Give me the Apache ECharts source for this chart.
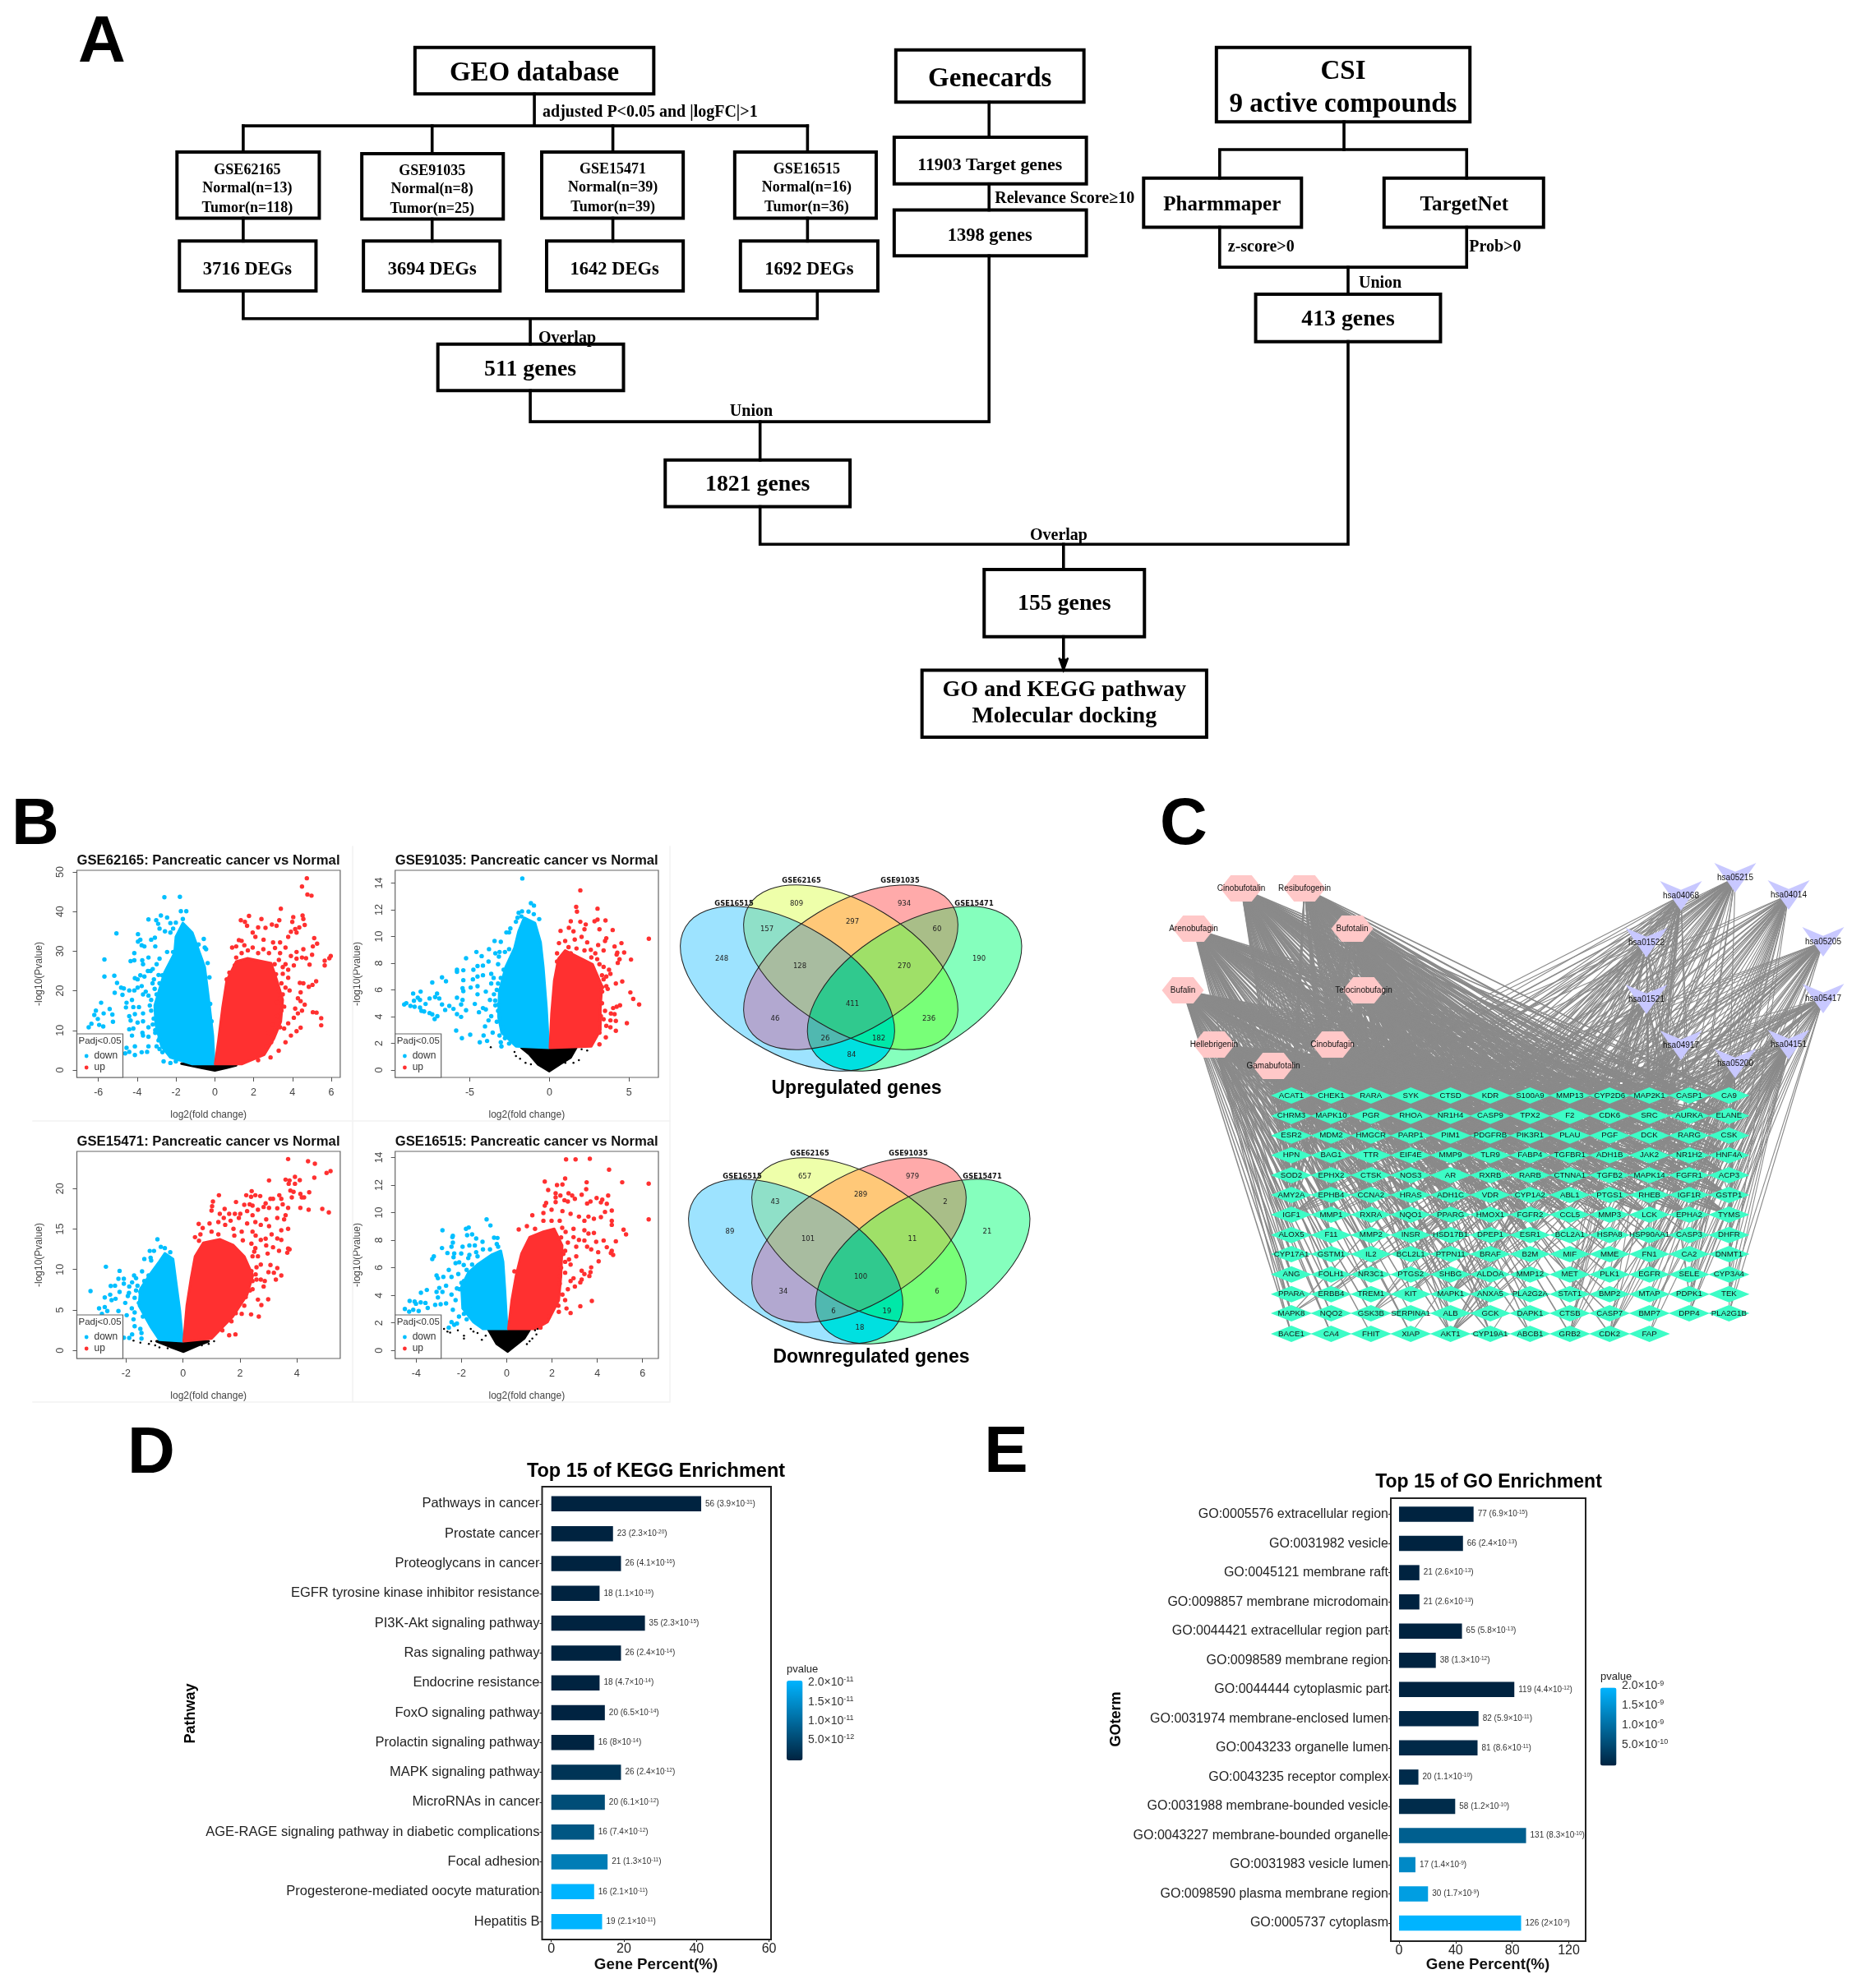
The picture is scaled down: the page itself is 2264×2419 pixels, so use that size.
<!DOCTYPE html>
<html><head><meta charset="utf-8">
<style>html,body{margin:0;padding:0;background:#fff}#c{width:2264px;height:2419px}</style>
<script src="https://cdn.jsdelivr.net/npm/echarts@6/dist/echarts.min.js"></script>
</head><body><div id="c"></div>
<script>
/* ---------- DATA ---------- */
const volcanoTitles=['GSE62165: Pancreatic cancer vs Normal','GSE91035: Pancreatic cancer vs Normal','GSE15471: Pancreatic cancer vs Normal','GSE16515: Pancreatic cancer vs Normal'];
const blueMass=[
[[-.03,1.5],[-.1,8.7],[-.31,17.7],[-.52,26],[-.88,30.9],[-1.16,34.7],[-1.65,37.1],[-2.01,33.6],[-2.08,29.5],[-2.6,24.6],[-2.85,20.5],[-3.1,16.3],[-3.05,11.5],[-2.75,6],[-2.3,3.2],[-1.16,1.5]],
[[-.04,1.67],[-.18,4.64],[-.38,7.7],[-.55,9.56],[-.9,11],[-1.59,11.4],[-1.93,10.4],[-2.19,9.15],[-2.75,7.7],[-3.15,5.87],[-3.2,4],[-3,2.8],[-2.1,1.77]],
[[-.01,1.13],[-.11,4.86],[-.25,8.58],[-.35,11.3],[-.64,12],[-.83,11],[-1.12,9.6],[-1.5,7.6],[-1.55,5.53],[-1.12,2.82],[-.83,1.3]],
[[.02,1.56],[-.08,4.44],[-.16,6.43],[-.26,7.23],[-.68,6.93],[-1.3,6.23],[-1.7,5.64],[-2,4.64],[-1.95,3.05],[-1.47,2.06],[-1.05,1.56]]];
const redMass=[
[[.01,1.5],[.18,7.4],[.39,15.6],[.61,22.6],[1.1,27.4],[1.67,28.2],[2.9,27],[3.2,22.6],[3.5,17.7],[3.4,12.2],[3.05,8],[2.55,3.9],[1.38,1.5]],
[[.03,1.67],[.13,4.23],[.3,6.69],[.56,8.33],[.99,8.95],[2.02,8.33],[2.71,7.92],[3.3,6.28],[3.2,4.64],[3.2,3],[2.63,1.77]],
[[.02,1.13],[.13,5.53],[.28,8.92],[.42,11.63],[.71,13.3],[1.29,13.73],[1.77,13],[2.15,11.63],[2.45,9.26],[2.25,6.89],[1.75,4.18],[1,1.47]],
[[.07,1.56],[.22,3.65],[.41,5.44],[.65,7.03],[1.01,8.22],[1.62,8.62],[2.1,8.82],[2.45,7.62],[2.4,5.44],[2.3,3.65],[1.8,2.06],[1.25,1.56]]];
const blackMass=[
[[-1.72,1.6],[-.8,1.4],[1.1,1.2],[.6,.6],[0,-.1],[-.7,.6]],
[[-1.76,1.67],[1.68,1.67],[1.34,.95],[.65,.44],[0,-.08],[-.73,.44],[-1.24,1.16]],
[[-.93,1.13],[.9,1.13],[.52,.62],[.02,-.16],[-.45,.45]],
[[-.81,1.5],[1.01,1.5],[.77,.87],[.04,-.08],[-.44,.47]]];
const blackDots=[[],
[[-2.19,1.36],[-2.1,1.05],[-1.84,.85],[-1.5,.54],[-1.16,.44],[-3.68,1.71],[2.02,1.56],[2.37,1.46],[1.85,.74],[1.51,.54],[1,.54]],
[[-1.74,1.2],[-1.5,.96],[-1.2,.8],[-.98,.62],[-.83,.38],[-.54,.28],[1.09,1.13],[.9,.8],[.66,.62],[-1.12,1.13]],
[[-2.77,1.56],[-2.62,1.37],[-2.5,1.3],[-2.16,1.46],[-1.89,1.07],[-1.89,.87],[-1.59,1.56],[-1.47,1.37],[-1.29,1.27],[-1.1,.77],[-.93,1.07],[1.25,1.46],[1.31,1.17],[1.13,.87],[1.01,.67],[.89,.47],[1.37,1.56]]];
const blueDots=[
[[-5.07,34.5],[-5.69,27.9],[-2.6,43.6],[-1.8,43.7],[-1.75,40.1],[-1.47,40.1],[-1.65,38.1],[-5.69,23.6],[-5.18,23.8],[-5.04,22],[-5.16,19.5],[-4.83,20.8],[-4.69,20.6],[-4.76,19],[-4.41,20.1],[-4.15,20.1],[-3.98,20.8],[-3.77,21.2],[-3.63,23.6],[-3.84,23.9],[-3.98,22.9],[-4.12,23.2],[-4.34,27.5],[-4.15,27.7],[-3.74,27.7],[-3.7,26.7],[-3.42,28.4],[-3.45,25],[-3.31,25],[-3,26.7],[-2.85,28.1],[-2.46,29.8],[-2.15,29.8],[-3.07,31.2],[-3.28,32.9],[-3.77,31.5],[-3.63,31.2],[-3.84,32.9],[-3.96,32.4],[-3.96,34.3],[-4.15,29.5],[-3.09,33.4],[-2.85,35.7],[-2.57,35],[-2.29,34.7],[-3.42,38],[-3.02,37.8],[-2.92,36.9],[-2.78,39],[-2.46,38.5],[-2.29,37.1],[-2.01,37.2],[-2.15,35.7],[-3.14,22.9],[-3.21,21.9],[-2.85,21.9],[-2.71,23.9],[-3,19.1],[-3.42,18.8],[-3.28,17.7],[-3.56,19.8],[-3.7,19.1],[-4.27,17.7],[-4.55,17],[-4.58,15.8],[-4.2,15.9],[-3.91,15.9],[-3.7,14.3],[-3.35,16.3],[-3.28,15],[-3,14.3],[-4.12,14.1],[-4.41,13.6],[-4.34,12.5],[-3.98,12],[-3.7,12.3],[-3.42,10.8],[-3.07,10.1],[-2.92,12.5],[-4.2,10.5],[-4.41,10.3],[-4.27,8.7],[-3.73,9.4],[-3.7,8.7],[-3.42,8.4],[-3.07,9.4],[-2.85,8],[-3,6],[-2.85,5.3],[-3.42,6],[-3.49,4.6],[-4.12,6],[-4.55,5.6],[-4.62,4.2],[-4.41,4.6],[-4.12,3.8],[-3.77,4.5],[-2.64,2.2],[-2.29,1.8],[-2.01,2.2],[-2.08,4.6],[-.57,33.1],[-.52,30.9],[-.84,31.7],[-.45,30.5],[-.37,27],[-.28,23.4],[-.24,16.7],[-.17,12.3],[-5.28,14],[-5.42,15.4],[-5.25,12.2],[-5.73,14.3],[-5.86,17],[-6.13,15],[-6.21,13.9],[-6.03,12.9],[-6.36,11.7],[-6.5,10.8],[-5.96,11.4],[-5.75,11],[-3.2,25.5],[-2.9,24],[-3.1,20.5],[-3.15,13],[-2.95,17.5],[-3.2,11.5],[-2.9,7.5],[-2.7,4.5]],
[[-1.7,14.34],[-1.16,12.49],[-.97,12.31],[-1.72,11.88],[-1.93,11.77],[-1.31,11.86],[-.98,11.67],[-.64,11.3],[-2,11.4],[-1.76,11.5],[-2.1,11.1],[-2.45,10.6],[-2.53,10.3],[-2.7,10.3],[-3.05,9.6],[-3.44,9.66],[-3.79,9.05],[-4.58,8.84],[-4.25,8.53],[-5.23,8.37],[-3.82,8.12],[-4.17,7.82],[-4.51,7.78],[-3.13,8.84],[-2.79,8.84],[-2.53,9.05],[-3.39,8.74],[-3.17,8.49],[-5.8,7.51],[-5.4,7.47],[-4.77,7.51],[-6.74,6.94],[-7.35,6.55],[-6.49,6.65],[-5.4,6.73],[-5.8,7.35],[-4.8,6.79],[-4.51,7],[-4.17,7.1],[-3.65,7.2],[-3.22,7.92],[-2.87,7.51],[-3.05,6.9],[-2.79,6.79],[-4.94,6.18],[-4.51,6.28],[-5.45,6.12],[-5.4,5.91],[-3.65,6.48],[-3.22,6.48],[-8.08,5.87],[-8.55,5.73],[-7.05,5.73],[-7.52,5.36],[-7.17,5.46],[-6.91,5.36],[-8.26,5.42],[-8.12,5.25],[-8.5,5.19],[-8.98,5.01],[-9.11,4.91],[-8.72,4.8],[-8.46,4.74],[-8.12,4.68],[-7.77,4.95],[-8.03,4.43],[-7.86,4.39],[-6.74,4.91],[-6.28,4.8],[-6.02,4.58],[-6.54,4.5],[-5.8,5.42],[-5.45,5.25],[-5.54,4.91],[-4.68,4.95],[-5.23,4.48],[-5.8,4.19],[-5.54,3.98],[-7.52,4.27],[-7.35,4.17],[-7.03,4.03],[-7.2,3.82],[-4.51,5.67],[-3.99,5.87],[-3.48,5.67],[-3.73,5.25],[-4.17,4.64],[-4.42,4.33],[-3.99,4.54],[-3.39,4.85],[-3.22,4.43],[-3.65,4.03],[-3.82,3.72],[-3.3,3.62],[-4.04,3.27],[-5.85,2.96],[-5.49,2.39],[-4.97,2.65],[-4.13,2.59],[-3.91,2.18],[-4.37,2.08],[-3.56,2.8],[-3.05,2.08],[-3.01,1.77],[-2.79,2.39],[-2.53,1.98],[-3.13,2.59],[-2.87,3.2],[-3.3,6],[-3.5,6.9],[-3.4,5.2],[-3.2,4.9],[-3.1,3.9]],
[[-.9,13.73],[-3.25,7.33],[-2.71,10.34],[-2.23,9.83],[-2.27,8.85],[-2.08,8.85],[-2.54,7.97],[-2.39,8],[-1.72,9.26],[-1.65,8.92],[-1.44,9.77],[-1.36,11.3],[-1.14,11.46],[-1.12,11.12],[-1.02,12.3],[-1.17,12.3],[-.78,12.8],[-.64,12.65],[-.45,12.14],[-2.75,6.55],[-2.56,6.89],[-2.51,6.21],[-2.37,6.38],[-2.23,7.23],[-2.08,8.24],[-1.89,7.9],[-1.79,8.41],[-1.94,6.72],[-2.03,5.87],[-2.27,4.86],[-2.66,4.86],[-2.75,5.36],[-2.95,5.19],[-2.85,4.52],[-1.98,4.35],[-1.7,4.69],[-1.74,3.84],[-1.7,2.99],[-1.5,2.65],[-1.46,2.15],[-1.79,1.98],[-2.08,1.57],[-1.89,1.54],[-1.41,4.18],[-1.55,5.87],[-1.5,7.23],[-1.36,8.58],[-1.21,9.26],[-1.46,1.47],[-1.7,6.5],[-1.8,5.2],[-1.6,8],[-1.9,7.1],[-1.65,7.4]],
[[-.89,9.51],[-.72,9.07],[-2.84,8.72],[-1.68,8.92],[-1.8,8.82],[-2.38,8.32],[-2.4,8.22],[-1.53,8.42],[-1.75,8.36],[-1.35,8.12],[-1.07,7.88],[-.56,8.18],[-.41,8.16],[-1.41,7.62],[-1.65,7.62],[-1.95,7.53],[-2.38,7.82],[-2.44,7.53],[-2.86,7.43],[-2.62,7.07],[-2.32,7.03],[-2.35,6.77],[-3.22,6.83],[-3.29,6.63],[-2.01,7.03],[-1.65,6.93],[-1.35,7.13],[-1.05,7.33],[-.74,7.33],[-.44,7.72],[-.38,7.53],[-2.26,6.33],[-2.56,5.84],[-2.8,5.34],[-3.1,5.44],[-3.04,5.24],[-2.68,4.7],[-2.98,4.54],[-3.53,4.39],[-3.79,4.19],[-3.1,4.25],[-2.84,4.25],[-3.04,3.85],[-3.16,3.31],[-2.92,3.35],[-2.68,3.41],[-3.59,3.45],[-3.8,3.49],[-4.07,3.55],[-4.01,3.39],[-4.29,3.59],[-3.49,3.09],[-4.5,3.01],[-4.31,2.82],[-4.13,2.95],[-3.89,2.86],[-2.44,4.05],[-2.26,3.65],[-2.08,4.44],[-1.89,5.04],[-2.38,2.95],[-2.11,2.46],[-1.89,2.66],[-1.65,3.25],[-1.77,2.26],[-2.44,2.06],[-2.32,1.86],[-2.2,1.96],[-2.56,1.66],[-1.29,6.83],[-1.53,6.23],[-1.77,5.84],[-2.14,5.54],[-2.44,5.34],[-1.9,6.2],[-2.1,6.4],[-1.7,6.7],[-2,4.9],[-2.2,4.5]]];
const redDots=[
[[4.74,48.4],[4.49,46.3],[4.77,44.3],[4.98,44],[3.4,40.7],[1.76,38.9],[1.34,37.8],[1.55,37.4],[2.4,38.1],[3.32,37.8],[2.94,36.7],[3.18,36.4],[2.61,35.9],[2.23,36],[4.04,38.6],[4.52,39],[4.56,38.1],[4.63,36.6],[3.99,37.4],[4.35,36],[4.14,35.6],[3.92,34.9],[4.21,34.7],[3.78,33.6],[5.12,33.3],[5.27,31.9],[5.05,31.2],[4.56,30.5],[5.01,29.1],[4.7,28.2],[5.97,28.8],[5.9,28.2],[5.66,27.6],[5.66,26.4],[4.88,26.6],[5.22,22.4],[5.03,21.5],[4.84,21],[4.56,21.9],[4.38,22],[4.42,19.6],[4.28,18.1],[4.42,17.4],[4.63,16.5],[4.14,15.5],[5.05,14.6],[5.24,14.5],[5.48,13.1],[5.48,11.3],[4.28,14.3],[4.49,15],[4.07,13.2],[4.42,10.7],[4.21,9.8],[3.78,11.8],[3.57,10.5],[3.92,8.7],[3.64,7],[3.29,4.9],[2.87,3.2],[2.23,2.5],[1.66,36.4],[1.95,34.7],[1.38,32.6],[1.24,32.8],[1.52,31.5],[1.1,31.2],[.89,30.9],[1.38,29.5],[1.1,28.4],[1.03,26.4],[.75,24.6],[.61,22.9],[2.09,33.6],[2.51,32.9],[3,32.2],[3.36,32.2],[3.64,30.9],[4.21,29.8],[3.92,28.8],[4.21,28.1],[4.49,28.4],[4.07,26.4],[3.78,25.3],[3.5,24.3],[3.78,23.3],[3.43,21.9],[3.64,20.8],[3.85,20.1],[3.5,19.1],[3.22,17],[3.57,16],[3.43,15],[3.22,13.6],[3,11.5],[3.36,10.8],[2.79,9.4],[2.65,6],[1.95,30.9],[2.23,29.5],[2.79,29.5],[3.36,29.5],[3.08,26.7],[3.64,26.7],[1.7,30.2],[2.5,30.5],[3.1,30.8],[3.3,27.8],[3.5,26],[3.15,24.2],[3.3,20],[3.35,18],[3.1,10],[2.9,7]],
[[1.94,13.45],[1.68,12.22],[1.73,11.86],[3.02,12.08],[1.34,11.14],[1.94,11.1],[2.28,10.9],[2.83,11.14],[3.02,11.26],[3.52,11.2],[3.14,10.54],[3.97,10.48],[.7,10.42],[1.22,10.65],[1.51,10.38],[2.2,10.54],[3.57,9.87],[3.49,9.66],[6.24,9.83],[4.52,9.5],[4.09,9.25],[2.02,9.97],[1.59,9.77],[.6,9.5],[.99,9.66],[2.37,9.56],[3.06,9.36],[2.2,8.95],[4.26,8.78],[4.69,8.8],[4.22,8.64],[5.12,8.27],[4.4,8.29],[4.29,8.02],[3.4,8.95],[2.88,8.74],[3.74,7.51],[3.83,7.2],[3.57,7],[4.57,6.63],[4.17,6.48],[3.4,6.79],[3.66,6.07],[5.08,5.81],[5.26,5.32],[5.63,4.91],[4.43,4.85],[4.22,4.74],[4,4.64],[3.86,4.23],[4.09,4.19],[3.49,4.43],[3.23,4.03],[3.83,3.72],[4.17,3.68],[4.86,3.51],[3.57,3.31],[3.83,3.2],[4.17,2.94],[3.54,2.45],[3.14,1.93],[3.31,5.87],[3.14,5.25],[3.57,6.28],[.48,8.12],[.48,8.74],[.82,8.53],[1.34,8.74],[2.63,8.43],[3.14,7.92],[3.4,7.72],[2.88,2.59],[3.14,2.8],[3.14,3.51],[1.2,9.2],[1.7,9.1],[2.6,9],[3,8.3],[3.3,7.1],[3.3,6.2],[3.3,5],[3.4,3.8]],
[[3.69,23.65],[4.39,23.38],[4.63,23.08],[5.18,22.16],[5.04,21.93],[4.61,21.35],[3.02,21.01],[3.6,21.11],[3.74,21.01],[3.93,21.45],[3.93,20.6],[4.1,21.05],[3.71,20.6],[3.77,19.76],[3.88,19.59],[4.12,19.35],[4.43,19.55],[4.17,18.91],[4.25,18.91],[3.82,18.91],[3.45,18.74],[3.38,19.18],[3.16,18.74],[3.07,18.74],[3.5,18.06],[3.69,17.62],[4.12,17.62],[4.41,17.39],[4.89,17.49],[5.12,17.05],[1.26,19.18],[1.05,18.4],[1.02,17.83],[1,17.29],[2.41,19.69],[2.22,19.18],[2.39,18.98],[2.54,19.18],[2.71,19.08],[1.86,18.34],[2.15,18],[2.34,18.06],[2.44,17.9],[2.9,18.17],[3.02,17.62],[3.31,17.56],[1.46,17.49],[1.62,16.88],[1.82,16.88],[2.01,16.88],[2.25,17.22],[2.44,16.71],[2.63,17.39],[2.83,17.73],[1.29,16.88],[1.43,16.37],[1.67,16.03],[1.96,16.37],[2.25,15.69],[2.54,15.86],[2.92,16.2],[3.31,16.37],[3.6,16.71],[3.55,16.2],[3.69,15.02],[3.45,14.85],[.55,15.63],[.69,15.12],[.93,15.69],[1.24,15.86],[1.48,15.52],[1.77,15.02],[2.06,14.68],[2.44,14.68],[2.73,15.52],[3.02,15.36],[3.11,14.34],[2.73,13.66],[3.31,13.83],[3.45,13.66],[.61,14.34],[.42,14],[.56,13.56],[1,14.68],[1.24,14.34],[3.69,12.58],[3.74,12.48],[3.66,12.07],[3.37,12.31],[3.16,12.75],[2.92,12.98],[2.54,12.65],[2.63,11.63],[2.97,11.97],[2.73,10.61],[2.58,10.27],[2.44,11.63],[3.07,10.55],[3,9.67],[3.31,10.17],[3.19,9.6],[3.26,8.75],[3.45,9.26],[2.58,8.75],[2.73,8.75],[2.87,8.58],[2.83,7.9],[2.44,8.58],[2.44,7.57],[2.15,5.53],[2.06,4.52],[2.39,4.45],[2.66,4.18],[2.63,6.28],[2.75,5.6],[2.99,6.31],[1.62,1.87],[1.84,1.98],[1.38,2.48],[1.8,14.2],[2.1,13.6],[2.4,13.2],[2.55,14.2],[2.9,13.8],[2.5,12.2],[2.4,9.8],[2.55,9.4],[2.35,7.4],[2.2,6.6],[1.85,4.6],[1.7,3.6]],
[[2.62,13.86],[3.04,13.86],[3.67,13.9],[4.52,13.11],[5.1,12.2],[6.27,12.1],[6.27,9.51],[1.68,12.25],[2.58,12.47],[1.83,11.64],[2.22,12],[2.46,12.04],[3.53,12.2],[3.51,11.7],[2.16,11.4],[2.37,11.24],[2.16,11.1],[2.73,11.4],[3.31,11.3],[2.89,11.24],[3.01,11],[2.55,10.9],[2.7,10.8],[2.16,10.76],[4.48,11.24],[3.97,11.06],[4.22,10.94],[4.42,10.64],[4.16,10.74],[3.7,10.8],[3.55,10.66],[4.64,10.15],[4.34,10.05],[4.16,9.67],[4.64,9.41],[4.64,9.11],[5.16,8.76],[5.27,8.42],[4.82,7.92],[4.28,7.98],[3.95,7.88],[4.42,7.49],[4.64,7.23],[4.6,7.07],[4.7,6.93],[4.04,7.13],[3.73,7.33],[3.55,7.53],[4.06,6.47],[3.73,6.03],[3.7,5.68],[3.65,5.4],[3.31,5.78],[3.43,5.54],[3.31,5.14],[3.25,4.94],[1.74,10.7],[1.68,10.5],[1.13,9.81],[1.62,9.97],[1.98,10.21],[2.46,10.11],[2.82,9.91],[3.19,9.71],[3.43,9.41],[3.61,9.71],[3.85,9.55],[.53,8.78],[.89,9.02],[1.25,8.82],[1.62,9.41],[1.98,9.41],[2.34,9.41],[2.95,8.82],[3.43,8.72],[3.61,8.48],[3.85,8.52],[3.19,8.02],[3.43,7.98],[3.07,7.53],[2.95,8.22],[2.7,7.82],[2.58,7.23],[3.07,6.83],[2.82,6.23],[2.58,5.64],[2.95,5.24],[3.01,4.64],[2.7,4.44],[2.58,3.65],[2.64,3.05],[2.82,2.72],[3.25,3.21],[3.76,3.59],[1.86,2.46],[2.28,3.25],[2.46,4.05],[2.34,4.84],[2.58,6.43],[2.82,5.04],[.34,5.74],[1.49,1.66],[2.4,8.2],[2.5,7],[2.4,6],[2.6,8.6],[2.35,5.4],[2.3,2.8],[2.75,6.6],[2.45,8.9]]];

const vennSets=['GSE16515','GSE62165','GSE91035','GSE15471'];
const vennUp=[248,809,934,190,157,297,60,128,270,411,46,236,26,182,84];
const vennDown=[89,657,979,21,43,289,2,101,11,100,34,6,6,19,18];
const vennTitles=['Upregulated genes','Downregulated genes'];
const vennRegionColor={'1000':'#9DE3FF','0100':'#EEFFAA','0010':'#FFAAAA','0001':'#85FFBD','1100':'#8FE0C8','0110':'#FFC878','0011':'#A9BE88','1110':'#A8BCA0','0111':'#9FE068','1111':'#30C98E','1010':'#B2A8D0','0101':'#78FF78','1011':'#50B8B0','1101':'#00E8A8','1001':'#00E0E0'};

const geneRows=[
'ACAT1 CHEK1 RARA SYK CTSD KDR S100A9 MMP13 CYP2D6 MAP2K1 CASP1 CA9',
'CHRM3 MAPK10 PGR RHOA NR1H4 CASP9 TPX2 F2 CDK6 SRC AURKA ELANE',
'ESR2 MDM2 HMGCR PARP1 PIM1 PDGFRB PIK3R1 PLAU PGF DCK RARG CSK',
'HPN BAG1 TTR EIF4E MMP9 TLR9 FABP4 TGFBR1 ADH1B JAK2 NR1H2 HNF4A',
'SOD2 EPHX2 CTSK NOS3 AR RXRB RARB CTNNA1 TGFB2 MAPK14 FGFR1 ACP3',
'AMY2A EPHB4 CCNA2 HRAS ADH1C VDR CYP1A2 ABL1 PTGS1 RHEB IGF1R GSTP1',
'IGF1 MMP1 RXRA NQO1 PPARG HMOX1 FGFR2 CCL5 MMP3 LCK EPHA2 TYMS',
'ALOX5 F11 MMP2 INSR HSD17B1 DPEP1 ESR1 BCL2A1 HSPA8 HSP90AA1 CASP3 DHFR',
'CYP17A1 GSTM1 IL2 BCL2L1 PTPN11 BRAF B2M MIF MME FN1 CA2 DNMT1',
'ANG FOLH1 NR3C1 PTGS2 SHBG ALDOA MMP12 MET PLK1 EGFR SELE CYP3A4',
'PPARA ERBB4 TREM1 KIT MAPK1 ANXA5 PLA2G2A STAT1 BMP2 MTAP PDPK1 TEK',
'MAPK8 NQO2 GSK3B SERPINA1 ALB GCK DAPK1 CTSB CASP7 BMP7 DPP4 PLA2G1B',
'BACE1 CA4 FHIT XIAP AKT1 CYP19A1 ABCB1 GRB2 CDK2 FAP'];
const compounds=['Cinobufotalin','Resibufogenin','Arenobufagin','Bufotalin','Bufalin','Telocinobufagin','Hellebrigenin','Cinobufagin','Gamabufotalin'];
const pathways=['hsa05215','hsa04068','hsa04014','hsa01522','hsa05205','hsa01521','hsa05417','hsa04917','hsa04151','hsa05200'];
const compoundExtra={
Cinobufotalin:'F11 MMP2 INSR HSD17B1 ESR1 BCL2L1 PTGS2 MAPK1 SHBG ALB AKT1 ANXA5 GCK',
Resibufogenin:'MMP2 IL2 INSR BCL2L1 KIT HSD17B1 DPEP1 PTPN11 ALB AKT1 MAPK1 CYP19A1 HSPA8',
Arenobufagin:'ALOX5 ANG MAPK8 GSTM1 FOLH1 ERBB4 IL2 NR3C1 TREM1 PTGS2 KIT SERPINA1 XIAP F11 CYP17A1',
Bufotalin:'DPEP1 BRAF ALDOA ANXA5 GCK CYP19A1 DAPK1 ABCB1 ESR1 B2M BCL2A1 HSP90AA1 FN1',
Bufalin:'ALOX5 CYP17A1 ANG PPARA MAPK8 BACE1 F11 GSTM1 FOLH1 ERBB4 NQO2 CA4 MMP2 INSR IL2',
Telocinobufagin:'BCL2A1 MIF MET STAT1 CTSB GRB2 CDK2 MMP12 PLA2G2A ESR1 HSPA8 MME CASP3',
Hellebrigenin:'ALOX5 CYP17A1 ANG PPARA MAPK8 BACE1 F11 FOLH1 NQO2 CA4 IL2 NR3C1 TREM1 GSK3B FHIT GSTM1',
Cinobufagin:'DPEP1 ESR1 BRAF B2M MMP12 PLA2G2A DAPK1 ABCB1 HSPA8 MME PLK1 BMP2 CASP7 HSP90AA1',
Gamabufotalin:'MMP2 INSR HSD17B1 BCL2L1 PTPN11 SHBG ALDOA MAPK1 ALB ANXA5 GCK AKT1 CYP19A1 XIAP IL2'};
const pathwayTargets={
hsa05215:'ACAT1 CHEK1 RARA SYK CTSD KDR MMP13 MAP2K1 CA9 CHRM3 RHOA CDK6 SRC ESR2 MDM2 PARP1 PDGFRB PIK3R1 PLAU PGF JAK2 HPN MMP9 TGFBR1 AR RARB TGFB2 FGFR1 HRAS ABL1 IGF1R IGF1 RXRA FGFR2 MMP3 MMP1 ESR1 BCL2L1 BRAF CASP9 MAPK1 EGFR STAT1 GSK3B AKT1 XIAP',
hsa04068:'ACAT1 SYK CTSD MAP2K1 CASP1 CHEK1 RHOA CASP9 TPX2 SRC MDM2 PDGFRB PIK3R1 PGF EIF4E TGFBR1 JAK2 AR TGFB2 MAPK14 HRAS ABL1 IGF1R RHEB IGF1 CCL5 LCK INSR BCL2L1 BRAF MAPK1 STAT1 EGFR PLK1 GSK3B GRB2 AKT1 CDK2 MAPK8',
hsa04014:'CHEK1 KDR RARA CTSD MAP2K1 CA9 RHOA F2 SRC PDGFRB PIK3R1 PLAU PGF EIF4E JAK2 TGFBR1 MAPK14 FGFR1 HRAS ABL1 VDR IGF1R RHEB IGF1 FGFR2 CCL5 EPHA2 LCK TYMS INSR BRAF FN1 MET EGFR SELE TEK KIT MAPK1 CDK2 GRB2 AKT1 PDPK1',
hsa01522:'ACAT1 RARA KDR S100A9 MAP2K1 CASP9 SRC CDK6 PIK3R1 PGF EIF4E JAK2 TGFB2 FGFR1 HRAS IGF1R GSTP1 IGF1 FGFR2 ESR1 INSR BRAF MET EGFR KIT ERBB4 BCL2L1 MAPK1 PDPK1 GRB2 AKT1',
hsa05205:'SYK KDR MMP13 CA9 RHOA CDK6 SRC MDM2 PDGFRB PIK3R1 PLAU PGF MMP9 TGFBR1 JAK2 CTNNA1 TGFB2 MAPK14 FGFR1 HRAS IGF1R IGF1 MMP1 FGFR2 MMP3 EPHA2 CASP3 MMP2 ESR1 BRAF FN1 DNMT1 MET PLK1 EGFR PTGS2 KIT ERBB4 MAPK1 CTSB PDPK1 DPP4 GRB2 AKT1 CDK2',
hsa01521:'KDR MAP2K1 SRC PDGFRB PIK3R1 PGF EIF4E JAK2 TGFBR1 FGFR1 HRAS ABL1 IGF1R IGF1 FGFR2 EPHA2 LCK INSR BRAF MET EGFR KIT ERBB4 STAT1 MAPK1 PDPK1 AKT1 GRB2 GSK3B BCL2L1',
hsa05417:'RHOA F2 CASP9 PLAU PGF PIK3R1 JAK2 EIF4E TGFB2 FGFR1 MAPK14 HRAS NOS3 IGF1R PTGS1 IGF1 HMOX1 CCL5 MMP1 CASP3 DHFR INSR MMP2 BCL2L1 MIF SELE EGFR PLK1 TEK MAPK1 STAT1 BMP7 BMP2 MAPK8 AKT1 DPP4 PDPK1 PLA2G1B',
hsa04917:'CHEK1 S100A9 MAP2K1 SRC RARG JAK2 TGFBR1 AR MAPK14 HRAS ESR2 IGF1R LCK CCL5 ESR1 INSR HSPA8 HSP90AA1 BCL2L1 STAT1 MAPK1 GSK3B MAPK8 AKT1 CYP19A1 GRB2 CDK2',
hsa04151:'CA9 KDR CASP9 ELANE CDK6 CSK PGF PDGFRB PIK3R1 HNF4A JAK2 ACP3 FGFR1 MAPK14 HRAS GSTP1 IGF1R RHEB TYMS IGF1 FGFR2 EPHA2 DHFR CASP3 INSR HSP90AA1 DNMT1 CA2 FN1 CYP3A4 SELE EGFR MET TEK PDPK1 MTAP PLA2G1B DPP4 BMP7 FAP CDK2 CASP7 MAPK1 GSK3B AKT1 PLK1 BMP2',
hsa05200:'CA9 CASP1 CASP9 KDR MAP2K1 AURKA ELANE CDK6 SRC RARG PIK3R1 PGF HNF4A NR1H2 JAK2 TGFB2 FGFR1 RARB ACP3 GSTP1 IGF1R RHEB TYMS EPHA2 LCK DHFR CASP3 HSP90AA1 DNMT1 CA2 FN1 CYP3A4 SELE EGFR TEK PDPK1 MTAP DPP4 PLA2G1B BMP7 FAP CDK2 STAT1 PLK1 CASP7'};

const keggTerms=['Pathways in cancer','Prostate cancer','Proteoglycans in cancer','EGFR tyrosine kinase inhibitor resistance','PI3K-Akt signaling pathway','Ras signaling pathway','Endocrine resistance','FoxO signaling pathway','Prolactin signaling pathway','MAPK signaling pathway','MicroRNAs in cancer','AGE-RAGE signaling pathway in diabetic complications','Focal adhesion','Progesterone-mediated oocyte maturation','Hepatitis B'];
const keggPercent=[41.3,17,19.2,13.3,25.8,19.2,13.3,14.75,11.8,19.2,14.75,11.8,15.5,11.8,14];
const keggCount=[56,23,26,18,35,26,18,20,16,26,20,16,21,16,19];
const keggP=['3.9e-31','2.3e-20','4.1e-16','1.1e-15','2.3e-15','2.4e-14','4.7e-14','6.5e-14','8e-14','2.4e-12','6.1e-12','7.4e-12','1.3e-11','2.1e-11','2.1e-11'];
const goTerms=['GO:0005576 extracellular region','GO:0031982 vesicle','GO:0045121 membrane raft','GO:0098857 membrane microdomain','GO:0044421 extracellular region part','GO:0098589 membrane region','GO:0044444 cytoplasmic part','GO:0031974 membrane-enclosed lumen','GO:0043233 organelle lumen','GO:0043235 receptor complex','GO:0031988 membrane-bounded vesicle','GO:0043227 membrane-bounded organelle','GO:0031983 vesicle lumen','GO:0098590 plasma membrane region','GO:0005737 cytoplasm'];
const goPercent=[52.7,45.2,14.4,14.4,44.5,26,81.5,56.2,55.5,13.7,39.7,89.8,11.6,20.5,86.3];
const goCount=[77,66,21,21,65,38,119,82,81,20,58,131,17,30,126];
const goP=['6.9e-15','2.4e-13','2.6e-13','2.6e-13','5.8e-13','1.3e-12','4.4e-12','5.9e-11','8.6e-11','1.1e-10','1.2e-10','8.3e-10','1.4e-9','1.7e-9','2e-9'];

const flowLabels=['GEO database','Genecards','CSI','9 active compounds','GSE62165','Normal(n=13)','Tumor(n=118)','GSE91035','Normal(n=8)','Tumor(n=25)','GSE15471','Normal(n=39)','Tumor(n=39)','GSE16515','Normal(n=16)','Tumor(n=36)','11903 Target genes','1398 genes','Pharmmaper','TargetNet','3716 DEGs','3694 DEGs','1642 DEGs','1692 DEGs','511 genes','413 genes','1821 genes','155 genes','GO and KEGG pathway','Molecular docking','adjusted P<0.05 and |logFC|>1','Relevance Score≥10','z-score>0','Prob>0','Union','Overlap','Union','Overlap'];

/* ---------- LAYOUT (page pixels) ---------- */
const fx=x=>80+(x-80)*.9949, fy=y=>y*.9944;
const flowTextDrop=4;
const flowLabelPos=[[653,86,33],[1210,93,33],[1642,84,33],[1642,124,33],
[302,204,18],[302,227,18],[302,251,18],[528,205,18],[528,228,18],[528,252,18],[749,203,18],[749,226,18],[749,250,18],[986,203,18],[986,226,18],[986,250,18],
[1210,198,21.8],[1210,285,22.5],[1494,247,25],[1790,247,25],
[302,326,22.5],[528,326,22.5],[751,326,22.5],[989,326,22.5],[648,448,27.8],[1648,387,27.8],[926,589,27.8],[1301,735,27.8],[1301,840,28],[1301,873,28]];
const flowNoteAt=[[663,134],[1216,239],[1501,299],[1796,298],[1661,343],[658,410],[892,500],[1259,651]];
const flowBoxes=[[507,58,799,115],[1095,61,1325,125],[1487,58,1797,149],[216,186,390,267],[442,188,615,268],[662,186,835,267],[898,186,1071,267],[1093,168,1328,225],[1093,257,1328,313],[1398,218,1591,278],[1692,218,1887,278],[219,295,386,356],[444,295,611,356],[668,295,835,356],[905,295,1073,356],[535,421,762,478],[1535,360,1761,418],[813,563,1039,620],[1203,697,1399,779],[1127,820,1475,902]];
const flowLines=[[[653,115],[653,154]],[[297,154],[987,154]],[[297,154],[297,186]],[[528,154],[528,188]],[[749,154],[749,186]],[[987,154],[987,186]],
[[297,267],[297,295]],[[528,268],[528,295]],[[749,267],[749,295]],[[987,267],[987,295]],
[[297,356],[297,390],[999,390],[999,356]],[[648,390],[648,421]],[[648,478],[648,516],[1209,516],[1209,313]],[[1209,125],[1209,168]],[[1209,225],[1209,257]],[[929,516],[929,563]],
[[929,620],[929,666],[1648,666],[1648,418]],[[1300,666],[1300,697]],[[1300,779],[1300,812]],
[[1643,149],[1643,183]],[[1491,218],[1491,183],[1793,183],[1793,218]],[[1491,278],[1491,327],[1793,327],[1793,278]],[[1648,327],[1648,360]]];
const flowArrow=[[1295,806],[1300,820],[1305,806]];
const bigLetters=[['A',124,53],['B',43,1005],['C',1440,1005],['D',184,1770],['E',1224,1769]];
const vRect=[[93.5,1059,320.4,252],[480.7,1059,320.3,252],[93.5,1401,320.4,252],[480.7,1401,320.3,252]];
const vX=[[-7.11,6.46],[-9.68,6.84],[-3.73,5.52],[-4.93,6.7]];
const vY=[[-1.85,50.4],[-.55,14.95],[-1,24.6],[-.58,14.44]];
const vXT=[[-6,-4,-2,0,2,4,6],[-5,0,5],[-2,0,2,4],[-4,-2,0,2,4,6]];
const vYT=[[0,10,20,30,40,50],[0,2,4,6,8,10,12,14],[0,5,10,15,20],[0,2,4,6,8,10,12,14]];
const vennEll={rx:145,ry:77.5,ang:31.2*Math.PI/180};
const vennCenters=[[958,1203,-1],[1035,1177,-1],[1035,1177,1],[1112.6,1203,1]];
const vennValPos=[[878,1167],[969,1100],[1100,1100],[1191,1167],[933,1131],[1037,1122],[1140,1131],[973,1176],[1100,1176],[1037,1222],[943,1240],[1130,1240],[1004,1264],[1069,1264],[1036,1284]];
const vennSetPos=[[893,1100],[975,1072],[1095,1072],[1185,1100]];
const vennShift=[10,332];
const hubPos={Cinobufotalin:[1510,1081],Resibufogenin:[1587,1081],Arenobufagin:[1452,1130],Bufotalin:[1645,1130],Bufalin:[1439,1205],Telocinobufagin:[1659,1205],Hellebrigenin:[1477,1271],Cinobufagin:[1621,1271],Gamabufotalin:[1549,1297],
hsa05215:[2111,1068],hsa04068:[2045,1090],hsa04014:[2176,1089],hsa01522:[2003,1147],hsa05205:[2218,1146],hsa01521:[2003,1216],hsa05417:[2218,1215],hsa04917:[2045,1272],hsa04151:[2176,1271],hsa05200:[2111,1294]};
const geneRowY=[1333,1357.7,1381.7,1405.7,1430,1454,1478,1502.7,1526,1550.7,1574.7,1598,1623];
const geneX0=1571,geneDX=48.4;

/* ---------- HELPERS ---------- */
const SERIF='"Liberation Serif",serif',SANS='"Liberation Sans",Arial,sans-serif';
const sciRich=s=>{const [m,e]=s.split('e');return '{a|'+m+'×10}{s|'+e+'}';};
const PAGE={xAxisIndex:0,yAxisIndex:0,coordinateSystem:'cartesian2d',silent:true,clip:false,animation:false};
function overlay(items,z,draw){return Object.assign({type:'custom',z:z,data:items.map((_,i)=>i),encode:{x:0,y:0},renderItem:(p,api)=>draw(items[p.dataIndex],api)},PAGE);}
const textEl=(it,api)=>{const c=api.coord([it.x,it.y]);const st={text:it.t,fill:it.c||'#000',font:`${it.w||'normal'} ${it.s}px ${it.f||SANS}`,textAlign:it.a||'center',textVerticalAlign:'middle'};if(it.rich)st.rich=it.rich;return {type:'text',x:c[0],y:c[1],rotation:it.rot||0,style:st};};
const rectEl=(b,api)=>{const a=api.coord([b.r[0],b.r[1]]),d=api.coord([b.r[2],b.r[3]]);return {type:'rect',shape:{x:a[0],y:a[1],width:d[0]-a[0],height:d[1]-a[1]},style:{fill:b.fill||'none',stroke:b.stroke||'#000',lineWidth:b.lw||1}};};
const lineEl=(l,api)=>({type:'polyline',shape:{points:l.p.map(q=>api.coord(q))},style:{fill:l.fill||'none',stroke:l.c||'#000',lineWidth:l.lw||1,lineCap:'square',lineJoin:'miter'}});

/* texts */
const texts=[];
flowLabelPos.forEach((p,i)=>texts.push({t:flowLabels[i],x:fx(p[0]),y:fy(p[1])+flowTextDrop,s:p[2],w:'bold',f:SERIF}));
flowNoteAt.forEach((p,i)=>texts.push({t:flowLabels[flowLabelPos.length+i],x:fx(p[0]),y:fy(p[1])+flowTextDrop,s:20,w:'bold',f:SERIF,a:'left'}));
bigLetters.forEach(b=>texts.push({t:b[0],x:b[1],y:b[2],s:80,w:'bold'}));
vRect.forEach((r,i)=>{
 texts.push({t:volcanoTitles[i],x:r[0]+160,y:r[1]-12,s:16.7,w:'bold',c:'#111'});
 texts.push({t:'Padj<0.05',x:r[0]+2,y:r[1]+208,s:11.5,a:'left',c:'#333'});
 texts.push({t:'down',x:r[0]+21,y:r[1]+226,s:12,a:'left',c:'#333'});
 texts.push({t:'up',x:r[0]+21,y:r[1]+240,s:12,a:'left',c:'#333'});
});
const VF='"DejaVu Sans",sans-serif';
[vennUp,vennDown].forEach((vals,k)=>{
 const dx=k?vennShift[0]:0,dy=k?vennShift[1]:0;
 vals.forEach((v,i)=>texts.push({t:String(v),x:vennValPos[i][0]+dx,y:vennValPos[i][1]+dy,s:8.5,f:VF,c:'#222'}));
 vennSets.forEach((n,i)=>texts.push({t:n,x:vennSetPos[i][0]+dx,y:vennSetPos[i][1]+dy,s:8.3,w:'bold',f:VF,c:'#111'}));
});
texts.push({t:vennTitles[0],x:1042,y:1325,s:23,w:'bold'},{t:vennTitles[1],x:1060,y:1652,s:23,w:'bold'});
texts.push({t:'Top 15 of KEGG Enrichment',x:798,y:1791,s:23.5,w:'bold'},{t:'Top 15 of GO Enrichment',x:1811,y:1804,s:23,w:'bold'});
texts.push({t:'Gene Percent(%)',x:798,y:2391,s:18.8,w:'bold',c:'#111'},{t:'Gene Percent(%)',x:1810,y:2391,s:18.8,w:'bold',c:'#111'});
texts.push({t:'Pathway',x:232,y:2085,s:18,w:'bold',rot:Math.PI/2},{t:'GOterm',x:1358,y:2092,s:18,w:'bold',rot:Math.PI/2});
texts.push({t:'pvalue',x:957,y:2031,s:13,a:'left',c:'#222'},{t:'pvalue',x:1947,y:2040,s:13,a:'left',c:'#222'});
const barRich=(sz,ss)=>({a:{fontSize:sz,fontFamily:SANS,fill:'#333',color:'#333'},s:{fontSize:ss,fontFamily:SANS,fill:'#333',color:'#333',padding:[0,0,Math.round(sz*.45),0]}});
[['2.0e-11',2047],['1.5e-11',2071],['1.0e-11',2094],['5.0e-12',2117]].forEach(a=>texts.push({t:sciRich(a[0]),rich:barRich(14,9),x:983,y:a[1],s:14,a:'left',c:'#222'}));
[['2.0e-9',2051.5],['1.5e-9',2075],['1.0e-9',2099],['5.0e-10',2123]].forEach(a=>texts.push({t:sciRich(a[0]),rich:barRich(14,9),x:1973,y:a[1],s:14,a:'left',c:'#222'}));

/* boxes */
const boxes=flowBoxes.map(r=>({r:[fx(r[0]),fy(r[1]),fx(r[2]),fy(r[3])],lw:4}));
vRect.forEach(r=>boxes.push({r:[r[0],r[1]+199,r[0]+56,r[1]+252],fill:'#fff',stroke:'#666',lw:1.2}));
boxes.push({r:[659.5,1809,938,2360],lw:2,stroke:'#222'},{r:[1692,1823,1929,2362],lw:2,stroke:'#222'});
/* lines */
const lines=flowLines.map(p=>({p:p.map(q=>[fx(q[0]),fy(q[1])]),lw:3.6}));
lines.push({p:flowArrow.map(q=>[fx(q[0]),fy(q[1])]),lw:2.5,fill:'#000'});
[[[429,1030],[429,1705]],[[40,1364],[815,1364]],[[40,1706],[815,1706]],[[815,1030],[815,1705]]].forEach(p=>lines.push({p:p,c:'#f2f2f2',lw:1.5}));
/* legend dots */
const legendDots=[];
vRect.forEach(r=>{legendDots.push({x:r[0]+11.7,y:r[1]+226,c:'#00BFFF'},{x:r[0]+11.7,y:r[1]+240,c:'#FF3030'});});

/* ---------- AXES ---------- */
const xAxis=[{type:'value',gridIndex:0,min:0,max:2264,show:false}],yAxis=[{type:'value',gridIndex:0,min:0,max:2419,inverse:true,show:false}];
const grid=[{left:0,top:0,width:2264,height:2419}];
const series=[];
const AC='#555';
vRect.forEach((r,i)=>{
 grid.push({left:r[0],top:r[1],width:r[2],height:r[3],show:true,borderColor:'#666',borderWidth:1.2,backgroundColor:'#fff'});
 const g=i+1;
 xAxis.push({type:'value',gridIndex:g,min:vX[i][0],max:vX[i][1],splitLine:{show:false},axisLine:{show:false,onZero:false},
   axisTick:{show:true,length:5,lineStyle:{color:AC},customValues:vXT[i]},
   axisLabel:{show:true,customValues:vXT[i],color:'#444',fontSize:12.5,fontFamily:SANS,margin:12},
   name:'log2(fold change)',nameLocation:'middle',nameGap:40,nameTextStyle:{color:'#444',fontSize:12,fontFamily:SANS}});
 yAxis.push({type:'value',gridIndex:g,min:vY[i][0],max:vY[i][1],splitLine:{show:false},axisLine:{show:false,onZero:false},
   axisTick:{show:true,length:5,lineStyle:{color:AC},customValues:vYT[i]},
   axisLabel:{show:true,customValues:vYT[i],rotate:90,color:'#444',fontSize:12.5,fontFamily:SANS,margin:13},
   name:'-log10(Pvalue)',nameLocation:'middle',nameGap:40,nameRotate:90,nameTextStyle:{color:'#444',fontSize:12,fontFamily:SANS}});
 const mass=(h,c)=>({type:'custom',xAxisIndex:g,yAxisIndex:g,coordinateSystem:'cartesian2d',silent:true,animation:false,z:2,encode:{x:0,y:1},data:[h[0]],
   renderItem:(p,api)=>({type:'polygon',shape:{points:h.map(q=>api.coord(q))},style:{fill:c,stroke:c,lineWidth:3,lineJoin:'round'}})});
 const dots=(d,c,s)=>({type:'scatter',xAxisIndex:g,yAxisIndex:g,data:d,symbolSize:s,itemStyle:{color:c,opacity:1},silent:true,animation:false,large:false,z:3});
 series.push(mass(blackMass[i],'#000'),dots(blackDots[i],'#000',2.5),mass(blueMass[i],'#00BFFF'),mass(redMass[i],'#FF3030'),dots(blueDots[i],'#00BFFF',5.4),dots(redDots[i],'#FF3030',5.4));
});

/* bar panels */
function barPanel(terms,pct,cnt,ps,gTop,gH,left,width,xmin,xmax,ticks,gap,termSize){
 const g=grid.length;
 grid.push({left:left,top:gTop,width:width,height:gH});
 xAxis.push({type:'value',gridIndex:g,min:xmin,max:xmax,splitLine:{show:false},axisLine:{show:false,onZero:false},offset:gap,
   axisTick:{show:true,length:3,lineStyle:{color:'#222'},customValues:ticks},
   axisLabel:{show:true,customValues:ticks,color:'#222',fontSize:16,fontFamily:SANS,margin:4}});
 yAxis.push({type:'category',gridIndex:g,inverse:true,data:terms,axisLine:{show:false,onZero:false},
   axisTick:{show:true,length:3,alignWithLabel:true,lineStyle:{color:'#222'}},
   axisLabel:{color:'#222',fontSize:termSize,fontFamily:SANS,margin:3,interval:0}});
 series.push({type:'bar',xAxisIndex:g,yAxisIndex:g,barWidth:18.5,silent:true,animation:false,z:3,encode:{x:0,y:1},
   data:pct.map((v,i)=>[v,i,+ps[i]]),
   label:{show:true,position:'right',distance:5,color:'#333',fontSize:10,fontFamily:SANS,
     formatter:p=>'{a|'+cnt[p.dataIndex]+' ('+ps[p.dataIndex].split('e')[0]+'×10}{s|'+ps[p.dataIndex].split('e')[1]+'}{a|)}',
     rich:{a:{fontSize:10,color:'#333',fontFamily:SANS},s:{fontSize:6.5,color:'#333',fontFamily:SANS,padding:[0,0,4,0]}}}});
 return series.length-1;
}
const sD=barPanel(keggTerms,keggPercent,keggCount,keggP,1811.7,544.6,659.5,278.5,-2.54,60.55,[0,20,40,60],3.7,16.5);
const sE=barPanel(goTerms,goPercent,goCount,goP,1824.8,533,1692,237,-5.8,131.9,[0,40,80,120],4.2,16);
const vmCol=['#002340','#00B4FF'];
const visualMap=[
 {type:'continuous',seriesIndex:sD,dimension:2,min:0,max:2.1e-11,inRange:{color:vmCol},left:957,top:2045,itemWidth:19.5,itemHeight:97,padding:0,calculable:false,text:null,showLabel:false,hoverLink:false},
 {type:'continuous',seriesIndex:sE,dimension:2,min:0,max:2e-9,inRange:{color:vmCol},left:1947,top:2053.6,itemWidth:19.5,itemHeight:95,padding:0,calculable:false,text:null,showLabel:false,hoverLink:false}];

/* network */
const HEX='path://M25,0 L75,0 L100,50 L75,100 L25,100 L0,50 Z';
const VEE='path://M0,0 L50,30 L100,0 L50,100 Z';
const genes=geneRows.map(r=>r.split(' '));
const nodes=[];
compounds.forEach(n=>nodes.push({name:n,value:hubPos[n],symbol:HEX,symbolSize:[51,32],itemStyle:{color:'#FFC8C8'},label:{fontSize:10}}));
pathways.forEach(n=>nodes.push({name:n,value:hubPos[n],symbol:VEE,symbolSize:[51,36],itemStyle:{color:'#C8C8FF'},label:{fontSize:10}}));
genes.forEach((row,r)=>row.forEach((n,c)=>nodes.push({name:n,value:[geneX0+c*geneDX,geneRowY[r]],symbol:'diamond',symbolSize:[50,20],itemStyle:{color:'#3DFCC6'},label:{fontSize:9.7}})));
const links=[];
compounds.forEach(h=>{
 genes.slice(0,7).forEach(row=>row.forEach(g=>links.push({source:h,target:g})));
 compoundExtra[h].split(' ').forEach(g=>links.push({source:h,target:g}));
});
pathways.forEach(h=>pathwayTargets[h].split(' ').forEach(g=>links.push({source:h,target:g,lineStyle:{width:1.1}})));
series.push(Object.assign({},PAGE,{type:'graph',layout:'none',z:2,roam:false,data:nodes,links:links,
 edgeSymbol:['none','none'],lineStyle:{color:'#8A8A8A',width:1.5,opacity:1,curveness:0},
 label:{show:true,position:'inside',color:'#111',fontFamily:SANS,fontSize:9},emphasis:{disabled:true}}));

/* venn */
const ell=[];
const vennSetsAt=[[0,0],vennShift];
vennSetsAt.forEach(s=>vennCenters.forEach(c=>ell.push({x:c[0]+s[0],y:c[1]+s[1],sg:c[2]})));
const inEll=(c,x,y)=>{const dx=x-c[0],dy=y-c[1],a=-c[2]*vennEll.ang,ca=Math.cos(a),sa=Math.sin(a);
  const u=dx*ca+dy*sa,v=-dx*sa+dy*ca;return u*u/(vennEll.rx*vennEll.rx)+v*v/(vennEll.ry*vennEll.ry)<=1;};
series.push(overlay(vennSetsAt,4,(s,api)=>{
  const cs=vennCenters.map(c=>[c[0]+s[0],c[1]+s[1],c[2]]),kids=[];
  const o=api.coord([0,0]);
  for(let y=1060+s[1];y<1320+s[1];y++){
    let run=null,startX=0;
    for(let x=800+s[0];x<=1280+s[0];x++){
      const k=cs.map(c=>inEll(c,x+.5,y+.5)?'1':'0').join('');
      const key=k==='0000'?null:k;
      if(key!==run){
        if(run)kids.push({type:'rect',shape:{x:o[0]+startX,y:o[1]+y,width:x-startX,height:1.3},style:{fill:vennRegionColor[run]||'#ccc'}});
        run=key;startX=x;
      }
    }
  }
  return {type:'group',children:kids};
}));
series.push(overlay(ell,5,(e,api)=>{const c=api.coord([e.x,e.y]);return {type:'ellipse',x:c[0],y:c[1],rotation:e.sg*vennEll.ang,
  shape:{cx:0,cy:0,rx:vennEll.rx,ry:vennEll.ry},style:{fill:'none',stroke:'#222',lineWidth:1}};}));

/* overlays */
series.push(overlay(lines,6,lineEl));
series.push(overlay(boxes,7,rectEl));
series.push(overlay(legendDots,8,(d,api)=>{const c=api.coord([d.x,d.y]);return {type:'circle',shape:{cx:c[0],cy:c[1],r:2.4},style:{fill:d.c}};}));
series.push(overlay(texts,9,textEl));

const chart=echarts.init(document.getElementById('c'),null,{renderer:'canvas',width:2264,height:2419});
chart.setOption({animation:false,backgroundColor:'#fff',tooltip:{show:false},grid,xAxis,yAxis,visualMap,series});
</script></body></html>
